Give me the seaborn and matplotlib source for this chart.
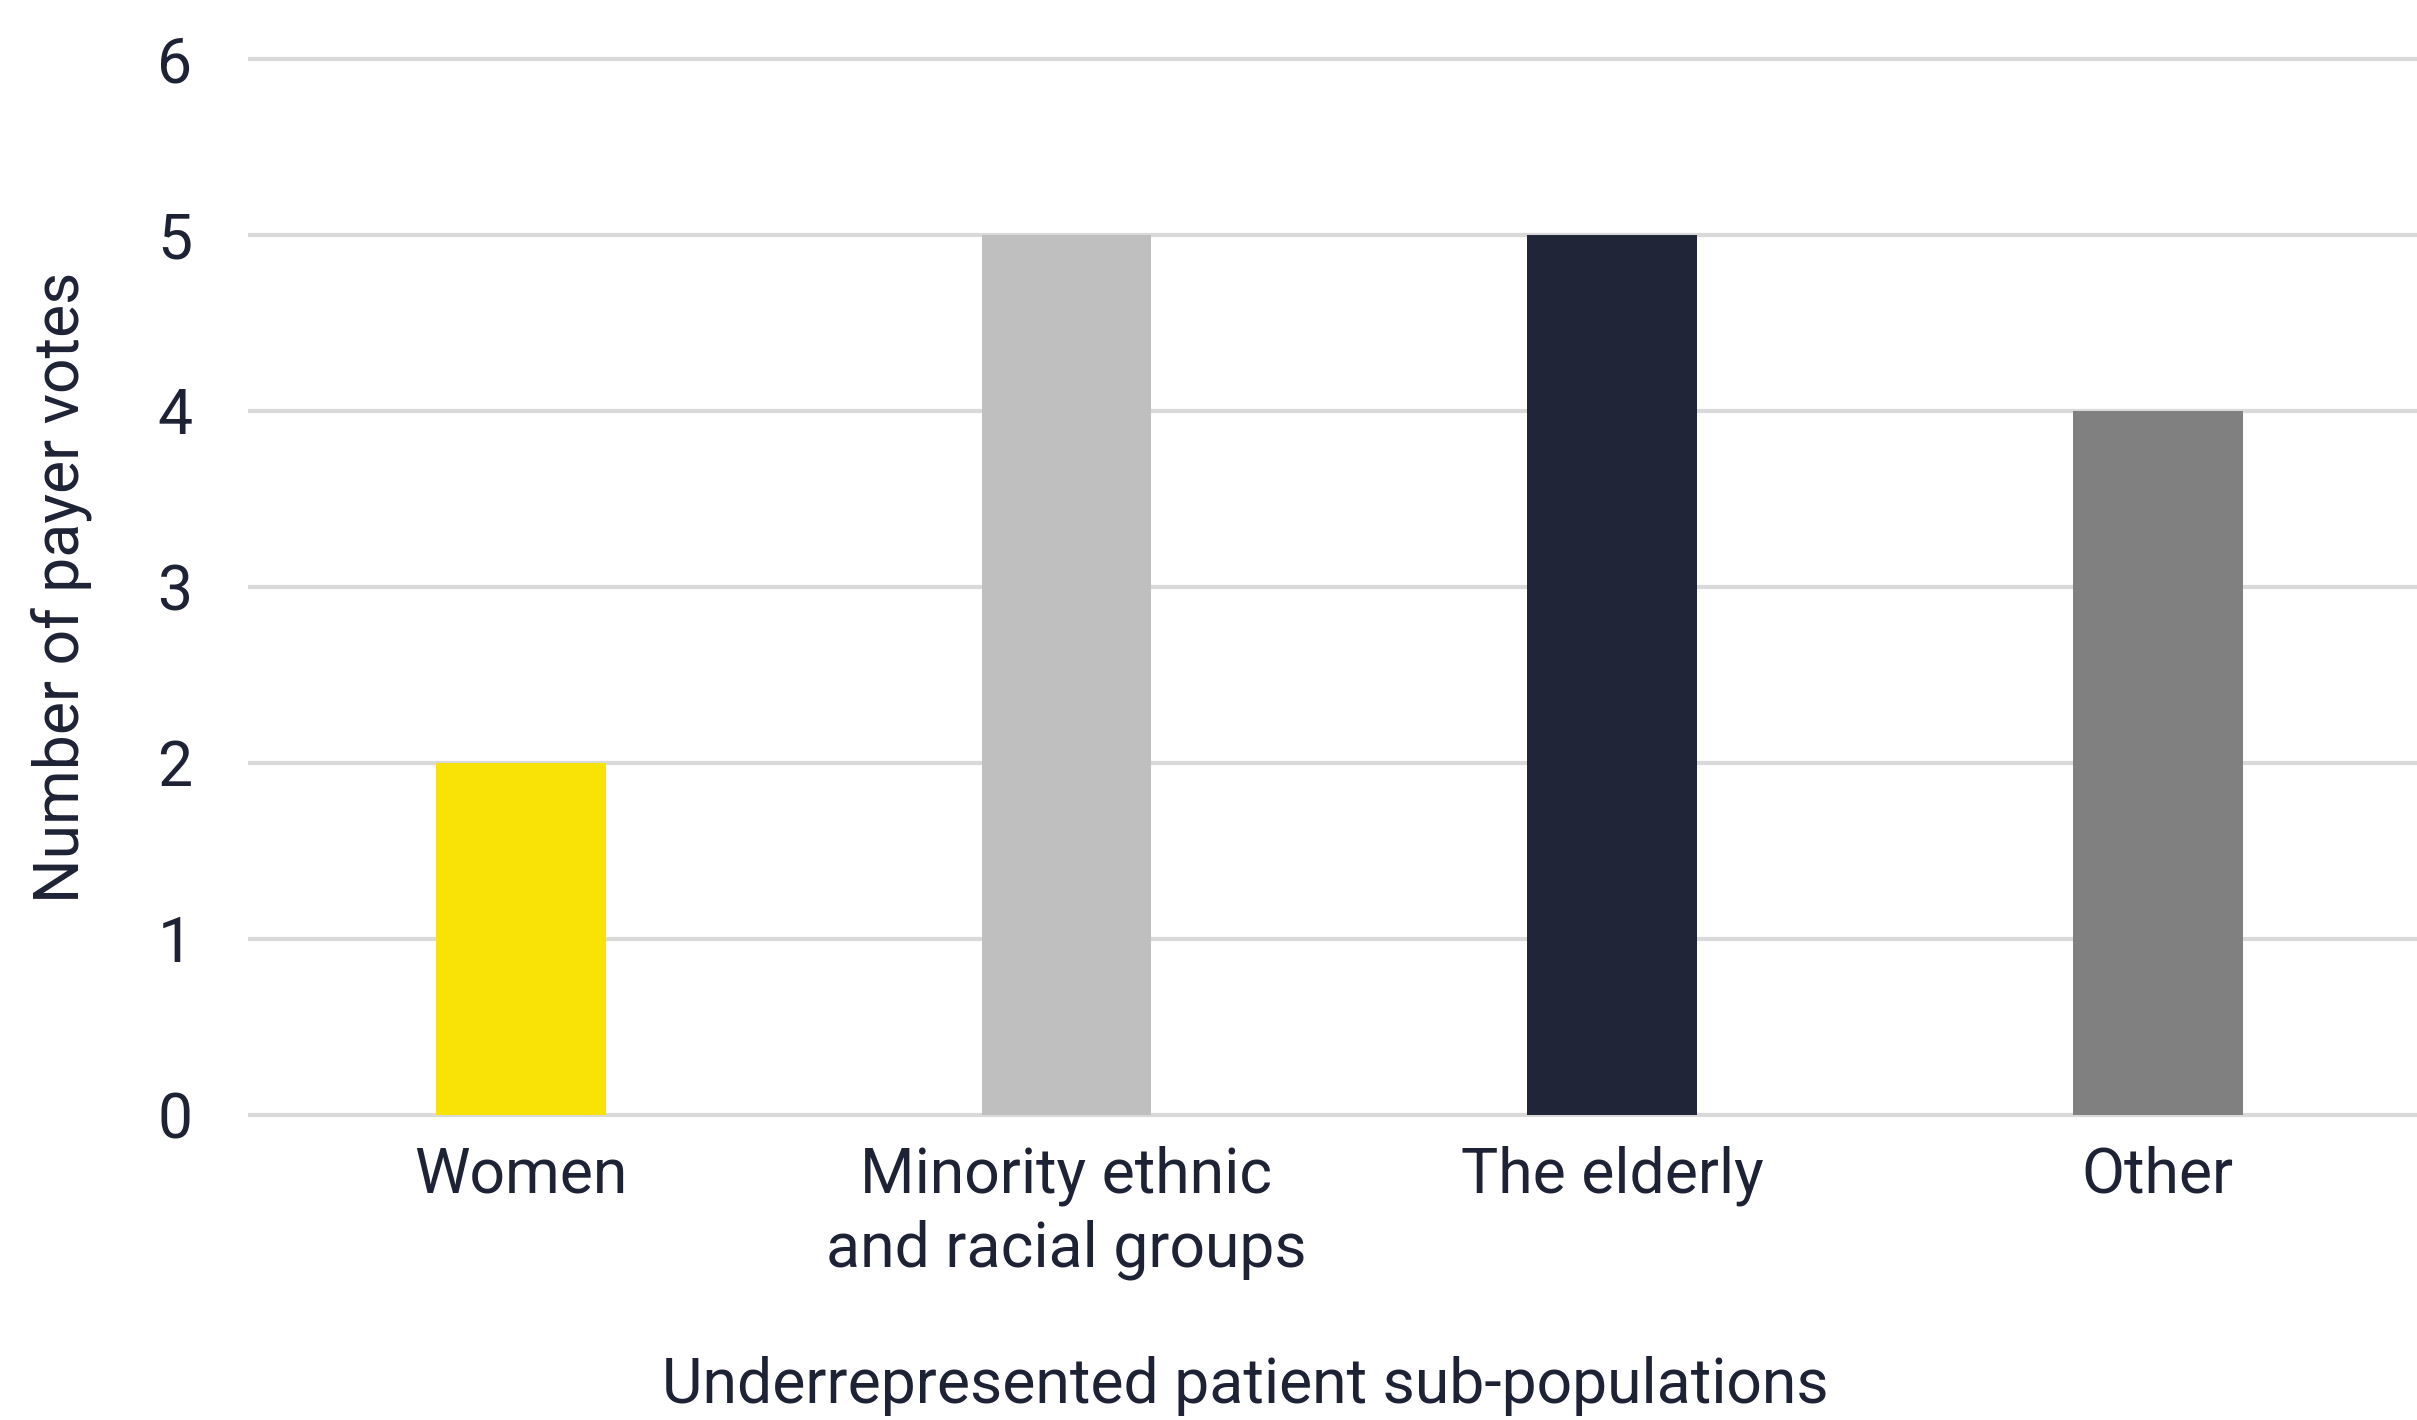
import matplotlib
matplotlib.use("Agg")
import matplotlib.pyplot as plt
import seaborn as sns
import pandas as pd

categories = ["Women", "Minority ethnic\nand racial groups", "The elderly", "Other"]
votes = [2, 5, 5, 4]
bar_colors = ["#F9E206", "#BFBFBF", "#202638", "#808080"]
y_ticks = [0, 1, 2, 3, 4, 5, 6]
x_label = "Underrepresented patient sub-populations"
y_label = "Number of payer votes"

TEXT = "#1e2235"
FS = 45
W = "normal"

sns.set_theme(style="white")
plt.rcParams["font.family"] = ["Roboto", "DejaVu Sans"]

df = pd.DataFrame({"cat": categories, "votes": votes})

fig = plt.figure(figsize=(24.17, 14.2), dpi=100)
ax = fig.add_axes([0.1026, 0.2024, 0.8974, 0.7685])

sns.barplot(data=df, x="cat", y="votes", hue="cat", palette=bar_colors,
            dodge=False, legend=False, width=0.311, saturation=1, ax=ax,
            linewidth=0, zorder=3)

ax.set_xlim(-0.5, 3.475)
ax.set_ylim(-0.1, 6.1)
ax.set_yticks(y_ticks)
ax.set_yticklabels([str(t) for t in y_ticks])
ax.yaxis.grid(True, color="#d9d9d9", linewidth=3)
ax.xaxis.grid(False)
ax.set_axisbelow(True)
for s in ax.spines.values():
    s.set_visible(False)

ax.tick_params(axis="both", length=0, labelsize=FS, colors=TEXT)
ax.tick_params(axis="y", pad=40)
ax.tick_params(axis="x", pad=9)
for lab in ax.get_xticklabels():
    lab.set_linespacing(1.3)
    lab.set_fontweight(W)
for lab in ax.get_yticklabels():
    lab.set_fontweight(W)

ax.set_xlabel(x_label, fontsize=FS, color=TEXT, fontweight=W)
ax.set_ylabel(y_label, fontsize=FS, color=TEXT, fontweight=W)
ax.xaxis.set_label_coords(0.4597, -0.205)
ax.yaxis.set_label_coords(-0.072, 0.5)

fig.savefig("out.png", dpi=100, facecolor="white")
